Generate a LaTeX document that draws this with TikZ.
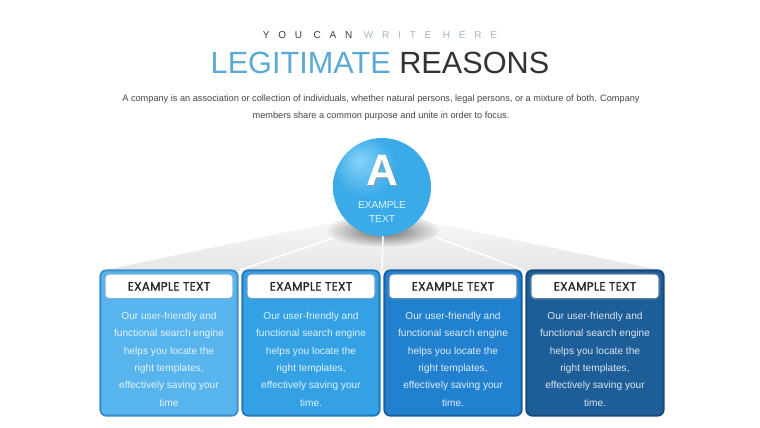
\documentclass[tikz,border=0pt]{standalone}
\usepackage{fontspec}
\setmainfont{Liberation Sans}
\newfontfamily\hdfont[FakeBold=1.3,LetterSpace=2]{Poppins}
\usetikzlibrary{positioning,shapes,calc}
\definecolor{titleblue}{HTML}{5AAAD4}
\definecolor{titlegray}{HTML}{333333}
\definecolor{subgray}{HTML}{3A3A3A}
\definecolor{sublight}{HTML}{A7B8C6}
\definecolor{bodygray}{HTML}{454545}
\definecolor{cardA}{HTML}{58B4EC}
\definecolor{cardAb}{HTML}{3C8ECB}
\definecolor{cardB}{HTML}{33A1E4}
\definecolor{cardBb}{HTML}{2478B8}
\definecolor{cardC}{HTML}{2281CE}
\definecolor{cardCb}{HTML}{1A60A0}
\definecolor{cardD}{HTML}{1D5D98}
\definecolor{cardDb}{HTML}{174A7A}
\definecolor{ballhi}{HTML}{86D3F8}
\definecolor{ballmain}{HTML}{3AAAE8}
\definecolor{ballrim}{HTML}{2A8CCB}
\pgfdeclareradialshading{ballshade}{\pgfpoint{-12bp}{14bp}}{color(0bp)=(ballhi); color(16bp)=(ballmain); color(40bp)=(ballmain); color(60bp)=(ballrim)}
\tikzset{
  card/.style={rounded corners=4.5pt, line width=1.4pt, minimum width=103pt, minimum height=109pt},
  head/.style={rounded corners=3pt, fill=white, line width=0.9pt, minimum width=96pt, minimum height=18.5pt,
    font=\hdfont\fontsize{9}{10}\selectfont, text=black!85, inner sep=0pt},
  blurb/.style={align=center, font=\fontsize{7.6}{13}\selectfont, inner sep=0pt},
  fanline/.style={white, line width=1.1pt}
}

\begin{document}
\begin{tikzpicture}[x=0.75pt, y=-0.75pt]
        \useasboundingbox[fill=white] (0,0) rectangle (760,428);
        %titles
        \node[font=\fontsize{7.5}{8}\selectfont\addfontfeature{LetterSpace=88}] (kicker) at (380,35)
          {\textcolor{subgray}{YOU CAN} \textcolor{sublight}{WRITE HERE}};
        \node[font=\fontsize{23}{26}\selectfont] (title) at (380,63)
          {\textcolor{titleblue}{LEGITIMATE} \textcolor{titlegray}{REASONS}};
        \node[align=center, text=bodygray, font=\fontsize{6.9}{12.6}\selectfont] (intro) at (381,108)
          {A company is an association or collection of individuals, whether natural persons, legal persons, or a mixture of both. Company\\
           members share a common purpose and unite in order to focus.};
        %fan
        \coordinate (fanl) at (100,271);
        \coordinate (fanr) at (664,271);
        \coordinate (gap12) at (240,270);
        \coordinate (gap23) at (382,270);
        \coordinate (gap34) at (524,270);
        \coordinate (topl) at (333,238);
        \coordinate (topm) at (383,236);
        \coordinate (topr) at (435,237);
        \shade[top color=gray!7, bottom color=gray!20] (fanl) -- (326,224) -- (438,224) -- (fanr) -- cycle;
        \shade[inner color=black!60, outer color=gray!14] (383,231) ellipse (56 and 16);
        \path[draw, fanline] (topl) -- (gap12);
        \path[draw, fanline] (topm) -- (gap23);
        \path[draw, fanline] (topr) -- (gap34);
        %ball
        \node[circle, minimum size=73.5pt, shading=ballshade] (ball) at (382,187) {};
        \node[font=\fontsize{33}{33}\selectfont\bfseries, text=black!40] (letters) at (383.3,171.3) {A};
        \node[font=\fontsize{33}{33}\selectfont\bfseries, text=white] (letter) at (382,170) {A};
        \node[align=center, text=white!88!cyan, font=\fontsize{7.6}{10}\selectfont] (balltext) at (382,212) {EXAMPLE\\TEXT};
        %cards
        \node[card, fill=cardA, draw=cardAb] (box1) at (169,343) {};
        \node[card, fill=cardB, draw=cardBb] (box2) at (311,343) {};
        \node[card, fill=cardC, draw=cardCb] (box3) at (453,343) {};
        \node[card, fill=cardD, draw=cardDb] (box4) at (595,343) {};
        %headers
        \node[head, draw=cardAb!70, below=3pt of box1.north] (hd1) {EXAMPLE TEXT};
        \node[head, draw=cardBb!70, below=3pt of box2.north] (hd2) {EXAMPLE TEXT};
        \node[head, draw=cardCb!70, below=3pt of box3.north] (hd3) {EXAMPLE TEXT};
        \node[head, draw=cardDb!70, below=3pt of box4.north] (hd4) {EXAMPLE TEXT};
        %texts
        \node[blurb, text=white!85!cardA, below=9.5pt of hd1] (tx1) {Our user-friendly and\\functional search engine\\helps you locate the\\right templates,\\effectively saving your\\time};
        \node[blurb, text=white!85!cardB, below=9.5pt of hd2] (tx2) {Our user-friendly and\\functional search engine\\helps you locate the\\right templates,\\effectively saving your\\time.};
        \node[blurb, text=white!85!cardC, below=9.5pt of hd3] (tx3) {Our user-friendly and\\functional search engine\\helps you locate the\\right templates,\\effectively saving your\\time.};
        \node[blurb, text=white!85!cardD, below=9.5pt of hd4] (tx4) {Our user-friendly and\\functional search engine\\helps you locate the\\right templates,\\effectively saving your\\time.};
      \end{tikzpicture}
\end{document}
